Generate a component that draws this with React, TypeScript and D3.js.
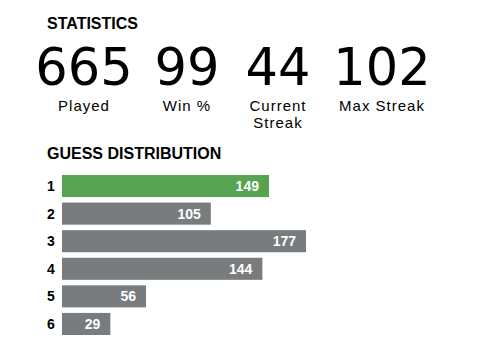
import React, { useEffect, useRef } from "react";
import * as d3 from "d3";

// stats row
const statValues = ["665", "99", "44", "102"];
const statLabels = [["Played"], ["Win %"], ["Current", "Streak"], ["Max Streak"]];

// guess distribution
const guesses = ["1", "2", "3", "4", "5", "6"];
const counts = [149, 105, 177, 144, 56, 29];
const highlightGuess = "1";

const W = 487;
const H = 364;

const App = () => {
  const ref = useRef<SVGSVGElement>(null);

  useEffect(() => {
    const svg = d3.select(ref.current);
    svg.selectAll("*").remove();

    svg
      .append("rect")
      .attr("width", W)
      .attr("height", H)
      .attr("fill", "#fff");

    const head = "'Liberation Sans', Arial, sans-serif";

    svg
      .append("text")
      .attr("x", 47)
      .attr("y", 29)
      .attr("font-family", head)
      .attr("font-weight", 700)
      .attr("font-size", 16)
      .attr("fill", "#000")
      .text("STATISTICS");

    // stat columns, centers
    const cx = d3.scaleOrdinal<string, number>().domain(statValues).range([84, 187, 278, 382]);

    const stat = svg
      .selectAll("g.stat")
      .data(statValues)
      .enter()
      .append("g")
      .attr("class", "stat")
      .attr("transform", (d) => `translate(${cx(d)},0)`);

    stat
      .append("text")
      .attr("y", 85)
      .attr("text-anchor", "middle")
      .attr("font-family", "'DejaVu Sans', sans-serif")
      .attr("font-size", 51)
      .attr("fill", "#000")
      .text((d) => d);

    stat.each(function (_, i) {
      const g = d3.select(this);
      statLabels[i].forEach((line, j) => {
        g.append("text")
          .attr("y", 111 + j * 17)
          .attr("text-anchor", "middle")
          .attr("font-family", head)
          .attr("font-size", 15)
          .attr("letter-spacing", 1)
          .attr("fill", "#000")
          .text(line);
      });
    });

    svg
      .append("text")
      .attr("x", 47)
      .attr("y", 159)
      .attr("font-family", head)
      .attr("font-weight", 700)
      .attr("font-size", 16)
      .attr("fill", "#000")
      .text("GUESS DISTRIBUTION");

    const left = 62;
    const y = d3.scaleBand().domain(guesses).range([175, 335]).paddingInner(0.2).paddingOuter(0);
    const w = d3.scaleLinear().domain([0, d3.max(counts)!]).range([10, 244]);
    const data = guesses.map((g, i) => ({ g, v: counts[i] }));

    const row = svg
      .selectAll("g.row")
      .data(data)
      .enter()
      .append("g")
      .attr("class", "row")
      .attr("transform", (d) => `translate(0,${y(d.g)})`);

    row
      .append("text")
      .attr("x", 47)
      .attr("y", y.bandwidth() / 2 + 5)
      .attr("font-family", head)
      .attr("font-weight", 700)
      .attr("font-size", 14)
      .attr("fill", "#000")
      .text((d) => d.g);

    row
      .append("rect")
      .attr("x", left)
      .attr("width", (d) => w(d.v))
      .attr("height", y.bandwidth())
      .attr("fill", (d) => (d.g === highlightGuess ? "#56a351" : "#787c7e"));

    row
      .append("text")
      .attr("x", (d) => left + w(d.v) - 10)
      .attr("y", y.bandwidth() / 2 + 5)
      .attr("text-anchor", "end")
      .attr("font-family", head)
      .attr("font-weight", 700)
      .attr("font-size", 14)
      .attr("fill", "#fff")
      .text((d) => d.v);
  }, []);

  return (
    <svg
      ref={ref}
      width={W}
      height={H}
      style={{ position: "absolute", left: 0, top: 0, display: "block" }}
    />
  );
};

export default App;
